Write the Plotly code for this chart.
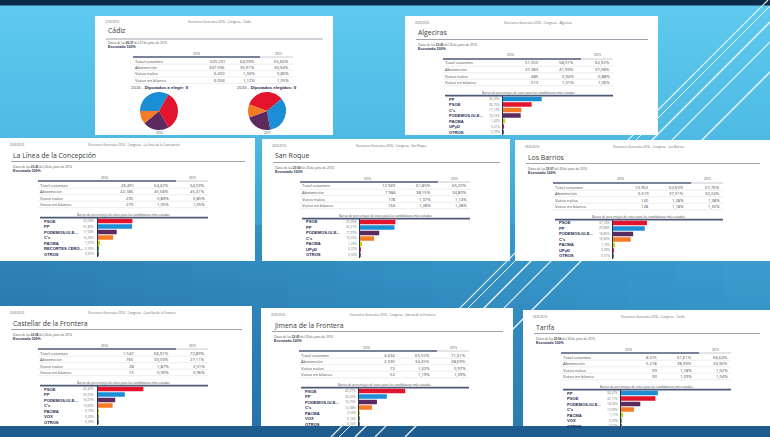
import plotly.graph_objects as go

# ---------------------------------------------------------------- data
municipios = ["Cádiz", "Algeciras", "La Línea de la Concepción", "San Roque",
              "Los Barrios", "Castellar de la Frontera", "Jimena de la Frontera", "Tarifa"]
fecha_pagina = ["27/6/2016", "26/6/2016", "26/6/2016", "26/6/2016",
                "26/6/2016", "26/6/2016", "26/6/2016", "26/6/2016"]
hora_datos = ["00:27", "23:45", "23:45", "23:54", "23:57", "22:08", "22:05", "20:54"]
dia_datos = ["27", "26", "26", "26", "26", "26", "26", "26"]

filas_tabla = ["Total votantes", "Abstención", "Votos nulos", "Votos en blanco"]
anios = ["2016", "2015"]

total_votantes_2016 = [620231, 51550, 26491, 12949, 10952, 1547, 4434, 8375]
abstencion_2016 = [347306, 37283, 22186, 7984, 6519, 765, 2330, 5218]
votos_nulos_2016 = [6450, 485, 235, 178, 140, 28, 72, 99]
votos_blanco_2016 = [6934, 513, 279, 164, 128, 15, 52, 90]

pct_total_2016 = [64.09, 58.01, 54.42, 61.85, 62.69, 66.91, 65.55, 61.61]
pct_abstencion_2016 = [35.91, 41.99, 45.58, 38.15, 37.31, 33.09, 34.45, 38.39]
pct_nulos_2016 = [1.04, 0.94, 0.89, 1.37, 1.28, 1.87, 1.62, 1.18]
pct_blanco_2016 = [1.12, 1.01, 1.05, 1.28, 1.18, 0.99, 1.19, 1.09]

pct_total_2015 = [65.66, 62.92, 54.59, 65.20, 67.76, 72.89, 71.31, 66.64]
pct_abstencion_2015 = [34.34, 37.08, 45.41, 34.80, 32.24, 27.11, 28.69, 33.36]
pct_nulos_2015 = [0.80, 0.88, 0.85, 1.14, 1.38, 2.01, 0.97, 1.02]
pct_blanco_2015 = [1.05, 1.06, 1.05, 1.28, 1.30, 0.96, 1.09, 1.04]

# Cádiz: seats (pie charts)
partidos_cadiz_2016 = ["PP", "PSOE", "PODEMOS-IU-E...", "C's"]
diputados_cadiz_2016 = [3, 3, 2, 1]
partidos_cadiz_2015 = ["PSOE", "PP", "PODEMOS-IU-E...", "C's"]
diputados_cadiz_2015 = [3, 3, 2, 1]

# bar charts: % of votes for the most voted candidacies
cand_algeciras = ["PP", "PSOE", "C's", "PODEMOS-IU-E...", "PACMA", "UPyD", "OTROS"]
pct_algeciras = [36.20, 26.75, 17.14, 16.53, 1.42, 0.41, 0.70]
cand_la_linea = ["PSOE", "PP", "PODEMOS-IU-E...", "C's", "PACMA", "RECORTES CERO...", "OTROS"]
pct_la_linea = [32.09, 31.82, 17.50, 14.20, 1.07, 0.39, 0.67]
cand_san_roque = ["PSOE", "PP", "PODEMOS-IU-E...", "C's", "PACMA", "UPyD", "OTROS"]
pct_san_roque = [33.09, 32.21, 17.97, 13.22, 1.23, 0.22, 0.53]
cand_los_barrios = ["PSOE", "PP", "PODEMOS-IU-E...", "C's", "PACMA", "UPyD", "OTROS"]
pct_los_barrios = [31.74, 29.68, 18.85, 16.60, 1.19, 0.39, 0.57]
cand_castellar = ["PSOE", "PP", "PODEMOS-IU-E...", "C's", "PACMA", "VOX", "OTROS"]
pct_castellar = [42.42, 25.05, 16.07, 13.60, 0.72, 0.20, 0.59]
cand_jimena = ["PSOE", "PP", "PODEMOS-IU-E...", "C's", "PACMA", "VOX", "OTROS"]
pct_jimena = [43.21, 26.02, 16.75, 12.08, 0.53, 0.14, 0.16]
cand_tarifa = ["PP", "PSOE", "PODEMOS-IU-E...", "C's", "PACMA", "VOX", "OTROS"]
pct_tarifa = [34.47, 32.11, 18.03, 12.09, 1.17, 0.29, 0.64]

titulo_barras = "Barras de porcentajes de votos para las candidaturas más votadas"

# ---------------------------------------------------------------- style
W, H = 770, 437
FONT = "Open Sans"
BOLD = "Liberation Sans"
NAVY = "#1e2a4e"
GREY = "#4a4a4a"
RULE = "#4d5877"

party_colors = {"PP": "#1b8ed6", "PSOE": "#e2142e", "PODEMOS-IU-E...": "#5c2a5e",
                "C's": "#f47b25", "PACMA": "#c8d200", "UPyD": "#e6007e", "VOX": "#5bb03c",
                "RECORTES CERO...": "#2aa14a", "OTROS": "#6f6f6f"}

# panel boxes in pixels (left, top, right, bottom)
panel_boxes = [(95, 16, 333, 135), (405, 16, 658, 135),
               (0, 138, 255, 261), (262, 139, 510, 261), (515, 140, 770, 261),
               (0, 306, 252, 426), (261, 308, 513, 426), (523, 310, 770, 426)]


def px(x):
    return x / W


def py(y):
    return 1 - y / H


def es_int(n):
    return f"{n:,}".replace(",", ".")


def es_pct(p):
    return f"{p:.2f}%".replace(".", ",")


def hex2rgb(c):
    return [int(c[i:i + 2], 16) for i in (1, 3, 5)]


def rgb2hex(v):
    return "#" + "".join(f"{max(0, min(255, round(x))):02x}" for x in v)


def lerp(a, b, t):
    return [a[k] + (b[k] - a[k]) * t for k in range(3)]


shapes = []
annotations = []


def rect(x0, y0, x1, y1, fill):
    shapes.append(dict(type="rect", xref="paper", yref="paper", x0=px(x0), x1=px(x1),
                       y0=py(y1), y1=py(y0), fillcolor=fill,
                       line=dict(width=0), layer="below"))


def hline(x0, x1, y, color, width):
    shapes.append(dict(type="line", xref="paper", yref="paper", x0=px(x0), x1=px(x1),
                       y0=py(y), y1=py(y), line=dict(color=color, width=width), layer="below"))


def text(x, y, s, size, color=GREY, anchor="left", family=FONT):
    annotations.append(dict(xref="paper", yref="paper", x=px(x), y=py(y), text=s,
                            showarrow=False, xanchor=anchor, yanchor="middle",
                            font=dict(family=family, size=size, color=color)))


# ---------------------------------------------------------------- background
stops = [(0, "#0c2b49"), (5, "#0c2b49"), (6, "#5fcaee"), (135, "#4fbae3"),
         (225, "#3aa0d2")]
for (ya, ca), (yb, cb) in zip(stops[:-1], stops[1:]):
    n = max(1, int((yb - ya) / 4))
    for k in range(n):
        y0 = ya + (yb - ya) * k / n
        y1 = ya + (yb - ya) * (k + 1) / n
        rect(0, y0, W, y1 + 0.8, rgb2hex(lerp(hex2rgb(ca), hex2rgb(cb), (k + 0.5) / n)))

# lower half: 2-D gradient (darker towards bottom-left)
top_l, top_r = hex2rgb("#2f86bb"), hex2rgb("#3ea2d4")
bot_l, bot_r = hex2rgb("#226a9e"), hex2rgb("#2d86ba")
ncol, y_a, y_b, nrow = 16, 225, 426, 25
for r_ in range(nrow):
    ty = (r_ + 0.5) / nrow
    for c_ in range(ncol):
        tx = (c_ + 0.5) / ncol
        col = lerp(lerp(top_l, top_r, tx), lerp(bot_l, bot_r, tx), ty)
        rect(W * c_ / ncol, y_a + (y_b - y_a) * r_ / nrow,
             W * (c_ + 1) / ncol + 0.8, y_a + (y_b - y_a) * (r_ + 1) / nrow + 0.8, rgb2hex(col))
rect(0, 426, W, 437, "#1d5c8c")

# diagonal decorative lines
for s, wdt in [(768, 1.2), (776, 1.0), (792, 1.4), (812, 1.2), (842, 1.3)]:
    shapes.append(dict(type="line", xref="paper", yref="paper",
                       x0=px(s - 437), y0=py(437), x1=px(s), y1=py(0),
                       line=dict(color="rgba(255,255,255,0.9)", width=wdt), layer="below"))

# ---------------------------------------------------------------- panels
fig = go.Figure()

rows_abs = [total_votantes_2016, abstencion_2016, votos_nulos_2016, votos_blanco_2016]
rows_p16 = [pct_total_2016, pct_abstencion_2016, pct_nulos_2016, pct_blanco_2016]
rows_p15 = [pct_total_2015, pct_abstencion_2015, pct_nulos_2015, pct_blanco_2015]

bar_sets = [None, (cand_algeciras, pct_algeciras), (cand_la_linea, pct_la_linea),
            (cand_san_roque, pct_san_roque), (cand_los_barrios, pct_los_barrios),
            (cand_castellar, pct_castellar), (cand_jimena, pct_jimena),
            (cand_tarifa, pct_tarifa)]

SCALE = 1.07   # px per percentage point
BARW = 62

for i, (l, t, r, b) in enumerate(panel_boxes):
    rect(l, t, r, b, "#ffffff")
    cad = (i == 0)
    if cad:
        g = dict(head=6, title=15, rule=23, datos=27, escr=31, thdr=38, tline=41,
                 row0=45, rowstep=6.4)
        hx = dict(date=8, title=11, lab=38, num=132, p16=162, p15=196, y16=102, y15=183,
                  tl0=38, tl1=165, tl2=198)
    else:
        g = dict(head=7, title=17, rule=23.5, datos=29, escr=33, thdr=39.5, tline=43,
                 row0=47, rowstep=6.5)
        hx = dict(date=8, title=11, lab=38, num=136, p16=171, p15=207, y16=105, y15=192,
                  tl0=38, tl1=176, tl2=208)
    name = municipios[i]
    text(l + hx["date"], t + g["head"], fecha_pagina[i], 3.0, color="#666")
    text((l + r) / 2 + 6, t + g["head"],
         f"Elecciones Generales 2016 - Congreso - {name}", 3.0, anchor="center", color="#666")
    text(l + hx["title"], t + g["title"], name, 6.9, color="#3a3a3a")
    hline(l + hx["title"], r - 10, t + g["rule"], "#9ea4ad", 1)
    text(l + hx["title"], t + g["datos"],
         f"Datos de las <b>{hora_datos[i]}</b> del {dia_datos[i]} de junio de 2016", 3.0)
    text(l + hx["title"], t + g["escr"], "<b>Escrutado 100%</b>", 3.6, color=NAVY,
         family=BOLD)
    # table
    text(l + hx["y16"], t + g["thdr"], anios[0], 3.0, anchor="center", color="#444")
    text(l + hx["y15"], t + g["thdr"], anios[1], 3.0, anchor="center", color="#444")
    hline(l + hx["tl0"], l + hx["tl1"], t + g["tline"], RULE, 1.6)
    hline(l + hx["tl1"], l + hx["tl2"], t + g["tline"], "#b9bdc6", 0.8)
    for j, lab in enumerate(filas_tabla):
        yy = t + g["row0"] + g["rowstep"] * j
        text(l + hx["lab"], yy, lab, 4.2)
        text(l + hx["num"], yy, es_int(rows_abs[j][i]), 4.2, anchor="right")
        text(l + hx["p16"], yy, es_pct(rows_p16[j][i]), 4.2, anchor="right")
        text(l + hx["p15"], yy, es_pct(rows_p15[j][i]), 4.2, anchor="right")
        hline(l + hx["tl0"], l + hx["tl2"], yy + 3.2, "#e3e3e3", 0.6)

    if cad:
        pies = [(partidos_cadiz_2016, diputados_cadiz_2016, 159, 270,
                 "2016 - <b style='color:#1e2a4e'>Diputados a elegir: 9</b>", anios[0]),
                (partidos_cadiz_2015, diputados_cadiz_2015, 267, 290,
                 "2015 - <b style='color:#1e2a4e'>Diputados elegidos: 9</b>", anios[1])]
        for labs, vals, cx, rot, ttl, yr in pies:
            cy, rr = 111, 19
            fig.add_trace(go.Pie(labels=labs, values=vals, sort=False, direction="clockwise",
                                 rotation=rot, textinfo="none", hoverinfo="label+value",
                                 marker=dict(colors=[party_colors[p] for p in labs],
                                             line=dict(width=0)),
                                 domain=dict(x=[px(cx - rr), px(cx + rr)],
                                             y=[py(cy + rr), py(cy - rr)]),
                                 showlegend=False))
            text(cx, 87, ttl, 4.4, anchor="center", family=BOLD, color=GREY)
            text(cx, 132.5, yr, 3.0, anchor="center", color="#444")
        continue

    cands, vals = bar_sets[i]
    k = i + 1
    text(l + 123, t + 77, titulo_barras, 3.0, anchor="center")
    hline(l + 40, l + 208, t + 79.6, RULE, 1.6)
    bar_top = t + 83 - 2.75
    bar_bot = t + 83 + 5.5 * 6 + 2.75
    x0 = l + 98
    fig.add_trace(go.Bar(x=vals, y=cands, orientation="h",
                         marker=dict(color=[party_colors[c] for c in cands], line=dict(width=0)),
                         width=0.86, xaxis=f"x{k}", yaxis=f"y{k}", showlegend=False,
                         hovertemplate="%{y}: %{x:.2f}%<extra></extra>"))
    fig.layout[f"xaxis{k}"] = dict(domain=[px(x0), px(x0 + BARW)], range=[0, BARW / SCALE],
                                   visible=False, anchor=f"y{k}", fixedrange=True)
    fig.layout[f"yaxis{k}"] = dict(domain=[py(bar_bot), py(bar_top)], range=[6.5, -0.5],
                                   type="category", showticklabels=False, showgrid=False,
                                   zeroline=False, ticks="", showline=True,
                                   linecolor="#2b3552", linewidth=0.8, anchor=f"x{k}",
                                   fixedrange=True)
    for c, v in zip(cands, vals):
        annotations.append(dict(xref="paper", yref=f"y{k}", x=px(l + 42), y=c,
                                text=f"<b>{c}</b>", showarrow=False, xanchor="left",
                                yanchor="middle",
                                font=dict(family=BOLD, size=4.1, color=NAVY)))
        annotations.append(dict(xref="paper", yref=f"y{k}", x=px(l + 96.5), y=c,
                                text=es_pct(v), showarrow=False, xanchor="right",
                                yanchor="middle",
                                font=dict(family=FONT, size=3.2, color="#777777")))

fig.update_layout(width=W, height=H, margin=dict(l=0, r=0, t=0, b=0),
                  paper_bgcolor="#3a9fd0", plot_bgcolor="rgba(0,0,0,0)",
                  showlegend=False, shapes=shapes, annotations=annotations,
                  xaxis=dict(visible=False), yaxis=dict(visible=False))

fig.write_html("out.html", config={"displayModeBar": False},
               post_script="document.body.style.margin='0';document.body.style.overflow='hidden';")
